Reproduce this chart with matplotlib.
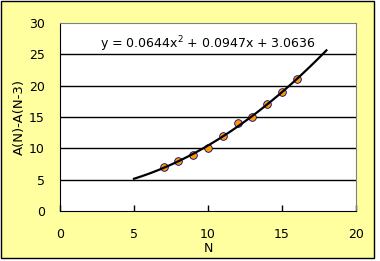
import numpy as np
import matplotlib
matplotlib.use("Agg")
import matplotlib.pyplot as plt
from matplotlib.patches import Rectangle

# Datos
n_valores = [7, 8, 9, 10, 11, 12, 13, 14, 15, 16]
diferencias = [7, 8, 9, 10, 12, 14, 15, 17, 19, 21]

# Coeficientes de la línea de tendencia (polinómica de grado 2)
coef_tendencia = [0.0644, 0.0947, 3.0636]
rango_tendencia = [5, 18]

plt.rcParams["font.family"] = ["DejaVu Sans"]

fig = plt.figure(figsize=(3.8, 2.61), dpi=100)
fig.patch.set_facecolor("white")

# Fondo amarillo del área del gráfico
fondo = Rectangle((1 / 380, 3 / 261), 373 / 380, 257 / 261,
                  transform=fig.transFigure, facecolor="#FFFFA0",
                  edgecolor="black", linewidth=1, zorder=-10)
fig.add_artist(fondo)

ax = fig.add_axes([60 / 380, 50 / 261, 296 / 380, 188 / 261])
ax.set_facecolor("white")

xs = np.linspace(rango_tendencia[0], rango_tendencia[1], 100)
ys = np.polyval(coef_tendencia, xs)
ax.plot(xs, ys, color="black", linewidth=1.6, zorder=3)

ax.plot(n_valores, diferencias, linestyle="none", marker="o",
        markersize=5.5, markerfacecolor="#FF9900",
        markeredgecolor="#000080", markeredgewidth=0.6, zorder=2)

ax.set_xlim(0, 20)
ax.set_ylim(0, 30)
ax.set_xticks([0, 5, 10, 15, 20])
ax.set_yticks([0, 5, 10, 15, 20, 25, 30])

for y in [5, 10, 15, 20, 25]:
    ax.axhline(y, color="black", linewidth=1, zorder=1)

ax.spines["left"].set_color("black")
ax.spines["bottom"].set_color("black")
ax.spines["top"].set_color("#808080")
ax.spines["right"].set_color("#808080")

ax.tick_params(axis="x", direction="in", length=4, width=1,
               labelsize=9, pad=12)
ax.tick_params(axis="y", length=0, labelsize=9, pad=11)

ax.set_xlabel("N", fontsize=9, labelpad=1)
ax.set_ylabel("A(N)-A(N-3)", fontsize=9.5, labelpad=2)

ax.text(0.5, 0.885, "y = 0.0644x$^{2}$ + 0.0947x + 3.0636",
        transform=ax.transAxes, ha="center", va="center", fontsize=9)

plt.savefig("out.png", dpi=100)
